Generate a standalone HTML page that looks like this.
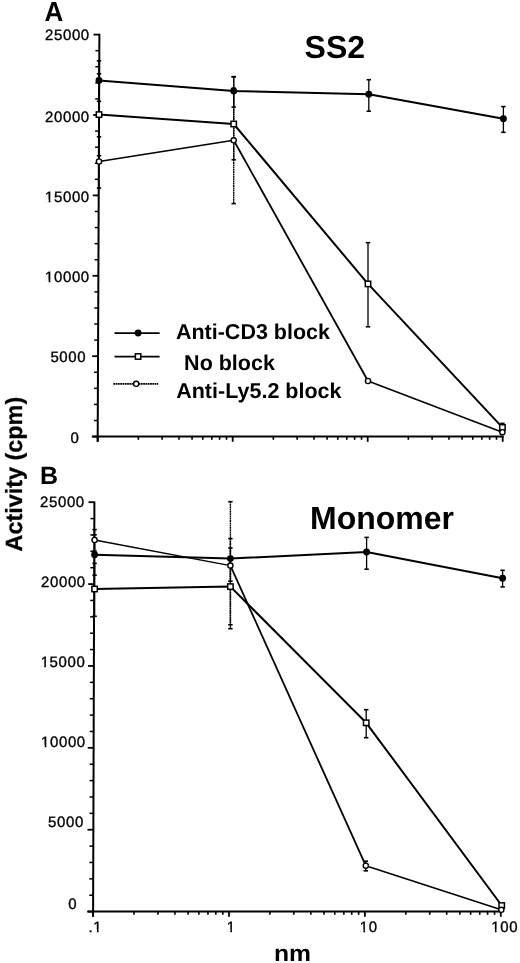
<!DOCTYPE html>
<html><head><meta charset="utf-8"><style>
html,body{margin:0;padding:0;background:#fff;}
body{width:520px;height:963px;overflow:hidden;}
svg{display:block;font-family:"Liberation Sans",sans-serif;will-change:transform;}
</style></head><body>
<svg width="520" height="963" viewBox="0 0 520 963">
<rect width="520" height="963" fill="#fff"/>
<line x1="99.39" y1="33.80" x2="97.68" y2="441.80" stroke="#000" stroke-width="2.0" stroke-linecap="butt"/>
<line x1="91.80" y1="436.60" x2="97.70" y2="436.60" stroke="#000" stroke-width="1.8" stroke-linecap="butt"/>
<line x1="93.87" y1="420.52" x2="97.77" y2="420.52" stroke="#000" stroke-width="1.5" stroke-linecap="butt"/>
<line x1="93.94" y1="404.44" x2="97.84" y2="404.44" stroke="#000" stroke-width="1.5" stroke-linecap="butt"/>
<line x1="94.00" y1="388.36" x2="97.90" y2="388.36" stroke="#000" stroke-width="1.5" stroke-linecap="butt"/>
<line x1="94.07" y1="372.28" x2="97.97" y2="372.28" stroke="#000" stroke-width="1.5" stroke-linecap="butt"/>
<line x1="92.14" y1="356.20" x2="98.04" y2="356.20" stroke="#000" stroke-width="1.8" stroke-linecap="butt"/>
<line x1="94.21" y1="340.12" x2="98.11" y2="340.12" stroke="#000" stroke-width="1.5" stroke-linecap="butt"/>
<line x1="94.27" y1="324.04" x2="98.17" y2="324.04" stroke="#000" stroke-width="1.5" stroke-linecap="butt"/>
<line x1="94.34" y1="307.96" x2="98.24" y2="307.96" stroke="#000" stroke-width="1.5" stroke-linecap="butt"/>
<line x1="94.41" y1="291.88" x2="98.31" y2="291.88" stroke="#000" stroke-width="1.5" stroke-linecap="butt"/>
<line x1="92.48" y1="275.80" x2="98.38" y2="275.80" stroke="#000" stroke-width="1.8" stroke-linecap="butt"/>
<line x1="94.54" y1="259.72" x2="98.44" y2="259.72" stroke="#000" stroke-width="1.5" stroke-linecap="butt"/>
<line x1="94.61" y1="243.64" x2="98.51" y2="243.64" stroke="#000" stroke-width="1.5" stroke-linecap="butt"/>
<line x1="94.68" y1="227.56" x2="98.58" y2="227.56" stroke="#000" stroke-width="1.5" stroke-linecap="butt"/>
<line x1="94.75" y1="211.48" x2="98.65" y2="211.48" stroke="#000" stroke-width="1.5" stroke-linecap="butt"/>
<line x1="92.81" y1="195.40" x2="98.71" y2="195.40" stroke="#000" stroke-width="1.8" stroke-linecap="butt"/>
<line x1="94.88" y1="179.32" x2="98.78" y2="179.32" stroke="#000" stroke-width="1.5" stroke-linecap="butt"/>
<line x1="94.95" y1="163.24" x2="98.85" y2="163.24" stroke="#000" stroke-width="1.5" stroke-linecap="butt"/>
<line x1="95.02" y1="147.16" x2="98.92" y2="147.16" stroke="#000" stroke-width="1.5" stroke-linecap="butt"/>
<line x1="95.08" y1="131.08" x2="98.98" y2="131.08" stroke="#000" stroke-width="1.5" stroke-linecap="butt"/>
<line x1="93.15" y1="115.00" x2="99.05" y2="115.00" stroke="#000" stroke-width="1.8" stroke-linecap="butt"/>
<line x1="95.22" y1="98.92" x2="99.12" y2="98.92" stroke="#000" stroke-width="1.5" stroke-linecap="butt"/>
<line x1="95.29" y1="82.84" x2="99.19" y2="82.84" stroke="#000" stroke-width="1.5" stroke-linecap="butt"/>
<line x1="95.35" y1="66.76" x2="99.25" y2="66.76" stroke="#000" stroke-width="1.5" stroke-linecap="butt"/>
<line x1="95.42" y1="50.68" x2="99.32" y2="50.68" stroke="#000" stroke-width="1.5" stroke-linecap="butt"/>
<line x1="93.49" y1="34.60" x2="99.39" y2="34.60" stroke="#000" stroke-width="1.8" stroke-linecap="butt"/>
<line x1="92.50" y1="436.60" x2="503.70" y2="436.60" stroke="#000" stroke-width="2.0" stroke-linecap="butt"/>
<line x1="138.34" y1="436.60" x2="138.34" y2="439.80" stroke="#000" stroke-width="1.6" stroke-linecap="butt"/>
<line x1="162.11" y1="436.60" x2="162.11" y2="439.80" stroke="#000" stroke-width="1.6" stroke-linecap="butt"/>
<line x1="178.98" y1="436.60" x2="178.98" y2="439.80" stroke="#000" stroke-width="1.6" stroke-linecap="butt"/>
<line x1="192.06" y1="436.60" x2="192.06" y2="439.80" stroke="#000" stroke-width="1.6" stroke-linecap="butt"/>
<line x1="202.75" y1="436.60" x2="202.75" y2="439.80" stroke="#000" stroke-width="1.6" stroke-linecap="butt"/>
<line x1="211.79" y1="436.60" x2="211.79" y2="439.80" stroke="#000" stroke-width="1.6" stroke-linecap="butt"/>
<line x1="219.62" y1="436.60" x2="219.62" y2="439.80" stroke="#000" stroke-width="1.6" stroke-linecap="butt"/>
<line x1="226.52" y1="436.60" x2="226.52" y2="439.80" stroke="#000" stroke-width="1.6" stroke-linecap="butt"/>
<line x1="273.34" y1="436.60" x2="273.34" y2="439.80" stroke="#000" stroke-width="1.6" stroke-linecap="butt"/>
<line x1="297.11" y1="436.60" x2="297.11" y2="439.80" stroke="#000" stroke-width="1.6" stroke-linecap="butt"/>
<line x1="313.98" y1="436.60" x2="313.98" y2="439.80" stroke="#000" stroke-width="1.6" stroke-linecap="butt"/>
<line x1="327.06" y1="436.60" x2="327.06" y2="439.80" stroke="#000" stroke-width="1.6" stroke-linecap="butt"/>
<line x1="337.75" y1="436.60" x2="337.75" y2="439.80" stroke="#000" stroke-width="1.6" stroke-linecap="butt"/>
<line x1="346.79" y1="436.60" x2="346.79" y2="439.80" stroke="#000" stroke-width="1.6" stroke-linecap="butt"/>
<line x1="354.62" y1="436.60" x2="354.62" y2="439.80" stroke="#000" stroke-width="1.6" stroke-linecap="butt"/>
<line x1="361.52" y1="436.60" x2="361.52" y2="439.80" stroke="#000" stroke-width="1.6" stroke-linecap="butt"/>
<line x1="408.34" y1="436.60" x2="408.34" y2="439.80" stroke="#000" stroke-width="1.6" stroke-linecap="butt"/>
<line x1="432.11" y1="436.60" x2="432.11" y2="439.80" stroke="#000" stroke-width="1.6" stroke-linecap="butt"/>
<line x1="448.98" y1="436.60" x2="448.98" y2="439.80" stroke="#000" stroke-width="1.6" stroke-linecap="butt"/>
<line x1="462.06" y1="436.60" x2="462.06" y2="439.80" stroke="#000" stroke-width="1.6" stroke-linecap="butt"/>
<line x1="472.75" y1="436.60" x2="472.75" y2="439.80" stroke="#000" stroke-width="1.6" stroke-linecap="butt"/>
<line x1="481.79" y1="436.60" x2="481.79" y2="439.80" stroke="#000" stroke-width="1.6" stroke-linecap="butt"/>
<line x1="489.62" y1="436.60" x2="489.62" y2="439.80" stroke="#000" stroke-width="1.6" stroke-linecap="butt"/>
<line x1="496.52" y1="436.60" x2="496.52" y2="439.80" stroke="#000" stroke-width="1.6" stroke-linecap="butt"/>
<line x1="97.70" y1="436.60" x2="97.70" y2="441.80" stroke="#000" stroke-width="1.8" stroke-linecap="butt"/>
<line x1="232.70" y1="436.60" x2="232.70" y2="441.80" stroke="#000" stroke-width="1.8" stroke-linecap="butt"/>
<line x1="367.70" y1="436.60" x2="367.70" y2="441.80" stroke="#000" stroke-width="1.8" stroke-linecap="butt"/>
<line x1="502.70" y1="436.60" x2="502.70" y2="441.80" stroke="#000" stroke-width="1.8" stroke-linecap="butt"/>
<line x1="94.41" y1="501.40" x2="93.08" y2="916.80" stroke="#000" stroke-width="2.0" stroke-linecap="butt"/>
<line x1="87.20" y1="911.60" x2="93.10" y2="911.60" stroke="#000" stroke-width="1.8" stroke-linecap="butt"/>
<line x1="89.25" y1="895.22" x2="93.15" y2="895.22" stroke="#000" stroke-width="1.5" stroke-linecap="butt"/>
<line x1="89.30" y1="878.85" x2="93.20" y2="878.85" stroke="#000" stroke-width="1.5" stroke-linecap="butt"/>
<line x1="89.36" y1="862.47" x2="93.26" y2="862.47" stroke="#000" stroke-width="1.5" stroke-linecap="butt"/>
<line x1="89.41" y1="846.10" x2="93.31" y2="846.10" stroke="#000" stroke-width="1.5" stroke-linecap="butt"/>
<line x1="87.46" y1="829.72" x2="93.36" y2="829.72" stroke="#000" stroke-width="1.8" stroke-linecap="butt"/>
<line x1="89.51" y1="813.34" x2="93.41" y2="813.34" stroke="#000" stroke-width="1.5" stroke-linecap="butt"/>
<line x1="89.57" y1="796.97" x2="93.47" y2="796.97" stroke="#000" stroke-width="1.5" stroke-linecap="butt"/>
<line x1="89.62" y1="780.59" x2="93.52" y2="780.59" stroke="#000" stroke-width="1.5" stroke-linecap="butt"/>
<line x1="89.67" y1="764.22" x2="93.57" y2="764.22" stroke="#000" stroke-width="1.5" stroke-linecap="butt"/>
<line x1="87.72" y1="747.84" x2="93.62" y2="747.84" stroke="#000" stroke-width="1.8" stroke-linecap="butt"/>
<line x1="89.78" y1="731.46" x2="93.68" y2="731.46" stroke="#000" stroke-width="1.5" stroke-linecap="butt"/>
<line x1="89.83" y1="715.09" x2="93.73" y2="715.09" stroke="#000" stroke-width="1.5" stroke-linecap="butt"/>
<line x1="89.88" y1="698.71" x2="93.78" y2="698.71" stroke="#000" stroke-width="1.5" stroke-linecap="butt"/>
<line x1="89.93" y1="682.34" x2="93.83" y2="682.34" stroke="#000" stroke-width="1.5" stroke-linecap="butt"/>
<line x1="87.99" y1="665.96" x2="93.89" y2="665.96" stroke="#000" stroke-width="1.8" stroke-linecap="butt"/>
<line x1="90.04" y1="649.58" x2="93.94" y2="649.58" stroke="#000" stroke-width="1.5" stroke-linecap="butt"/>
<line x1="90.09" y1="633.21" x2="93.99" y2="633.21" stroke="#000" stroke-width="1.5" stroke-linecap="butt"/>
<line x1="90.14" y1="616.83" x2="94.04" y2="616.83" stroke="#000" stroke-width="1.5" stroke-linecap="butt"/>
<line x1="90.20" y1="600.46" x2="94.10" y2="600.46" stroke="#000" stroke-width="1.5" stroke-linecap="butt"/>
<line x1="88.25" y1="584.08" x2="94.15" y2="584.08" stroke="#000" stroke-width="1.8" stroke-linecap="butt"/>
<line x1="90.30" y1="567.70" x2="94.20" y2="567.70" stroke="#000" stroke-width="1.5" stroke-linecap="butt"/>
<line x1="90.35" y1="551.33" x2="94.25" y2="551.33" stroke="#000" stroke-width="1.5" stroke-linecap="butt"/>
<line x1="90.41" y1="534.95" x2="94.31" y2="534.95" stroke="#000" stroke-width="1.5" stroke-linecap="butt"/>
<line x1="90.46" y1="518.58" x2="94.36" y2="518.58" stroke="#000" stroke-width="1.5" stroke-linecap="butt"/>
<line x1="88.51" y1="502.20" x2="94.41" y2="502.20" stroke="#000" stroke-width="1.8" stroke-linecap="butt"/>
<line x1="87.70" y1="911.60" x2="501.80" y2="911.60" stroke="#000" stroke-width="2.0" stroke-linecap="butt"/>
<line x1="134.01" y1="911.60" x2="134.01" y2="914.80" stroke="#000" stroke-width="1.6" stroke-linecap="butt"/>
<line x1="157.94" y1="911.60" x2="157.94" y2="914.80" stroke="#000" stroke-width="1.6" stroke-linecap="butt"/>
<line x1="174.92" y1="911.60" x2="174.92" y2="914.80" stroke="#000" stroke-width="1.6" stroke-linecap="butt"/>
<line x1="188.09" y1="911.60" x2="188.09" y2="914.80" stroke="#000" stroke-width="1.6" stroke-linecap="butt"/>
<line x1="198.85" y1="911.60" x2="198.85" y2="914.80" stroke="#000" stroke-width="1.6" stroke-linecap="butt"/>
<line x1="207.95" y1="911.60" x2="207.95" y2="914.80" stroke="#000" stroke-width="1.6" stroke-linecap="butt"/>
<line x1="215.83" y1="911.60" x2="215.83" y2="914.80" stroke="#000" stroke-width="1.6" stroke-linecap="butt"/>
<line x1="222.78" y1="911.60" x2="222.78" y2="914.80" stroke="#000" stroke-width="1.6" stroke-linecap="butt"/>
<line x1="269.91" y1="911.60" x2="269.91" y2="914.80" stroke="#000" stroke-width="1.6" stroke-linecap="butt"/>
<line x1="293.84" y1="911.60" x2="293.84" y2="914.80" stroke="#000" stroke-width="1.6" stroke-linecap="butt"/>
<line x1="310.82" y1="911.60" x2="310.82" y2="914.80" stroke="#000" stroke-width="1.6" stroke-linecap="butt"/>
<line x1="323.99" y1="911.60" x2="323.99" y2="914.80" stroke="#000" stroke-width="1.6" stroke-linecap="butt"/>
<line x1="334.75" y1="911.60" x2="334.75" y2="914.80" stroke="#000" stroke-width="1.6" stroke-linecap="butt"/>
<line x1="343.85" y1="911.60" x2="343.85" y2="914.80" stroke="#000" stroke-width="1.6" stroke-linecap="butt"/>
<line x1="351.73" y1="911.60" x2="351.73" y2="914.80" stroke="#000" stroke-width="1.6" stroke-linecap="butt"/>
<line x1="358.68" y1="911.60" x2="358.68" y2="914.80" stroke="#000" stroke-width="1.6" stroke-linecap="butt"/>
<line x1="405.81" y1="911.60" x2="405.81" y2="914.80" stroke="#000" stroke-width="1.6" stroke-linecap="butt"/>
<line x1="429.74" y1="911.60" x2="429.74" y2="914.80" stroke="#000" stroke-width="1.6" stroke-linecap="butt"/>
<line x1="446.72" y1="911.60" x2="446.72" y2="914.80" stroke="#000" stroke-width="1.6" stroke-linecap="butt"/>
<line x1="459.89" y1="911.60" x2="459.89" y2="914.80" stroke="#000" stroke-width="1.6" stroke-linecap="butt"/>
<line x1="470.65" y1="911.60" x2="470.65" y2="914.80" stroke="#000" stroke-width="1.6" stroke-linecap="butt"/>
<line x1="479.75" y1="911.60" x2="479.75" y2="914.80" stroke="#000" stroke-width="1.6" stroke-linecap="butt"/>
<line x1="487.63" y1="911.60" x2="487.63" y2="914.80" stroke="#000" stroke-width="1.6" stroke-linecap="butt"/>
<line x1="494.58" y1="911.60" x2="494.58" y2="914.80" stroke="#000" stroke-width="1.6" stroke-linecap="butt"/>
<line x1="93.10" y1="911.60" x2="93.10" y2="916.80" stroke="#000" stroke-width="1.8" stroke-linecap="butt"/>
<line x1="229.00" y1="911.60" x2="229.00" y2="916.80" stroke="#000" stroke-width="1.8" stroke-linecap="butt"/>
<line x1="364.90" y1="911.60" x2="364.90" y2="916.80" stroke="#000" stroke-width="1.8" stroke-linecap="butt"/>
<line x1="500.80" y1="911.60" x2="500.80" y2="916.80" stroke="#000" stroke-width="1.8" stroke-linecap="butt"/>
<line x1="99.00" y1="136.80" x2="99.00" y2="188.10" stroke="#000" stroke-width="1.4" stroke-linecap="butt" stroke-dasharray="1.8 0.5"/>
<line x1="96.80" y1="136.80" x2="101.20" y2="136.80" stroke="#000" stroke-width="1.6" stroke-linecap="butt"/>
<line x1="96.80" y1="188.10" x2="101.20" y2="188.10" stroke="#000" stroke-width="1.6" stroke-linecap="butt"/>
<line x1="99.00" y1="73.80" x2="99.00" y2="155.70" stroke="#000" stroke-width="1.3" stroke-linecap="butt"/>
<line x1="96.80" y1="73.80" x2="101.20" y2="73.80" stroke="#000" stroke-width="1.6" stroke-linecap="butt"/>
<line x1="96.80" y1="155.70" x2="101.20" y2="155.70" stroke="#000" stroke-width="1.6" stroke-linecap="butt"/>
<line x1="99.00" y1="60.80" x2="99.00" y2="101.30" stroke="#000" stroke-width="1.3" stroke-linecap="butt"/>
<line x1="96.80" y1="60.80" x2="101.20" y2="60.80" stroke="#000" stroke-width="1.6" stroke-linecap="butt"/>
<line x1="96.80" y1="101.30" x2="101.20" y2="101.30" stroke="#000" stroke-width="1.6" stroke-linecap="butt"/>
<line x1="233.70" y1="77.00" x2="233.70" y2="203.60" stroke="#000" stroke-width="1.4" stroke-linecap="butt" stroke-dasharray="1.8 0.5"/>
<line x1="231.50" y1="77.00" x2="235.90" y2="77.00" stroke="#000" stroke-width="1.6" stroke-linecap="butt"/>
<line x1="231.50" y1="203.60" x2="235.90" y2="203.60" stroke="#000" stroke-width="1.6" stroke-linecap="butt"/>
<line x1="233.70" y1="88.20" x2="233.70" y2="159.80" stroke="#000" stroke-width="1.4" stroke-linecap="butt" stroke-dasharray="1.8 0.5"/>
<line x1="231.50" y1="88.20" x2="235.90" y2="88.20" stroke="#000" stroke-width="1.6" stroke-linecap="butt"/>
<line x1="231.50" y1="159.80" x2="235.90" y2="159.80" stroke="#000" stroke-width="1.6" stroke-linecap="butt"/>
<line x1="233.70" y1="76.60" x2="233.70" y2="107.10" stroke="#000" stroke-width="1.3" stroke-linecap="butt"/>
<line x1="231.50" y1="76.60" x2="235.90" y2="76.60" stroke="#000" stroke-width="1.6" stroke-linecap="butt"/>
<line x1="231.50" y1="107.10" x2="235.90" y2="107.10" stroke="#000" stroke-width="1.6" stroke-linecap="butt"/>
<line x1="368.80" y1="79.70" x2="368.80" y2="111.20" stroke="#000" stroke-width="1.3" stroke-linecap="butt"/>
<line x1="366.60" y1="79.70" x2="371.00" y2="79.70" stroke="#000" stroke-width="1.6" stroke-linecap="butt"/>
<line x1="366.60" y1="111.20" x2="371.00" y2="111.20" stroke="#000" stroke-width="1.6" stroke-linecap="butt"/>
<line x1="368.00" y1="242.70" x2="368.00" y2="326.80" stroke="#000" stroke-width="1.3" stroke-linecap="butt"/>
<line x1="365.80" y1="242.70" x2="370.20" y2="242.70" stroke="#000" stroke-width="1.6" stroke-linecap="butt"/>
<line x1="365.80" y1="326.80" x2="370.20" y2="326.80" stroke="#000" stroke-width="1.6" stroke-linecap="butt"/>
<line x1="503.40" y1="106.60" x2="503.40" y2="132.30" stroke="#000" stroke-width="1.3" stroke-linecap="butt"/>
<line x1="501.20" y1="106.60" x2="505.60" y2="106.60" stroke="#000" stroke-width="1.6" stroke-linecap="butt"/>
<line x1="501.20" y1="132.30" x2="505.60" y2="132.30" stroke="#000" stroke-width="1.6" stroke-linecap="butt"/>
<line x1="502.40" y1="423.40" x2="502.40" y2="431.40" stroke="#000" stroke-width="1.3" stroke-linecap="butt"/>
<line x1="500.20" y1="423.40" x2="504.60" y2="423.40" stroke="#000" stroke-width="1.6" stroke-linecap="butt"/>
<line x1="500.20" y1="431.40" x2="504.60" y2="431.40" stroke="#000" stroke-width="1.6" stroke-linecap="butt"/>
<polyline points="99.00,161.50 233.70,140.30" fill="none" stroke="#000" stroke-width="1.4" stroke-linejoin="round"/>
<polyline points="233.70,140.30 368.00,381.00" fill="none" stroke="#000" stroke-width="1.8" stroke-linejoin="round"/>
<polyline points="368.00,381.00 502.40,432.20" fill="none" stroke="#000" stroke-width="1.5" stroke-linejoin="round"/>
<polyline points="99.00,114.60 233.70,124.00 368.00,283.90 502.40,427.40" fill="none" stroke="#000" stroke-width="2.0" stroke-linejoin="round"/>
<polyline points="99.00,80.50 233.70,91.00 368.80,94.20 503.40,118.80" fill="none" stroke="#000" stroke-width="2.0" stroke-linejoin="round"/>
<rect x="96.30" y="111.90" width="5.4" height="5.4" fill="#fff" stroke="#000" stroke-width="1.5"/>
<rect x="231.00" y="121.30" width="5.4" height="5.4" fill="#fff" stroke="#000" stroke-width="1.5"/>
<rect x="365.30" y="281.20" width="5.4" height="5.4" fill="#fff" stroke="#000" stroke-width="1.5"/>
<rect x="499.70" y="424.70" width="5.4" height="5.4" fill="#fff" stroke="#000" stroke-width="1.5"/>
<circle cx="99.00" cy="80.50" r="3.45" fill="#000"/>
<circle cx="233.70" cy="91.00" r="3.45" fill="#000"/>
<circle cx="368.80" cy="94.20" r="3.45" fill="#000"/>
<circle cx="503.40" cy="118.80" r="3.45" fill="#000"/>
<circle cx="99.00" cy="161.50" r="2.6" fill="#fff" stroke="#000" stroke-width="1.4"/>
<circle cx="233.70" cy="140.30" r="2.6" fill="#fff" stroke="#000" stroke-width="1.4"/>
<circle cx="368.00" cy="381.00" r="2.6" fill="#fff" stroke="#000" stroke-width="1.4"/>
<circle cx="502.40" cy="432.20" r="2.6" fill="#fff" stroke="#000" stroke-width="1.4"/>
<line x1="94.60" y1="529.60" x2="94.60" y2="551.00" stroke="#000" stroke-width="1.4" stroke-linecap="butt" stroke-dasharray="1.8 0.5"/>
<line x1="92.40" y1="529.60" x2="96.80" y2="529.60" stroke="#000" stroke-width="1.6" stroke-linecap="butt"/>
<line x1="92.40" y1="551.00" x2="96.80" y2="551.00" stroke="#000" stroke-width="1.6" stroke-linecap="butt"/>
<line x1="94.60" y1="534.80" x2="94.60" y2="575.20" stroke="#000" stroke-width="1.3" stroke-linecap="butt"/>
<line x1="92.40" y1="534.80" x2="96.80" y2="534.80" stroke="#000" stroke-width="1.6" stroke-linecap="butt"/>
<line x1="92.40" y1="575.20" x2="96.80" y2="575.20" stroke="#000" stroke-width="1.6" stroke-linecap="butt"/>
<line x1="94.60" y1="563.40" x2="94.60" y2="616.30" stroke="#000" stroke-width="1.3" stroke-linecap="butt"/>
<line x1="92.40" y1="563.40" x2="96.80" y2="563.40" stroke="#000" stroke-width="1.6" stroke-linecap="butt"/>
<line x1="92.40" y1="616.30" x2="96.80" y2="616.30" stroke="#000" stroke-width="1.6" stroke-linecap="butt"/>
<line x1="230.40" y1="501.70" x2="230.40" y2="628.70" stroke="#000" stroke-width="1.4" stroke-linecap="butt" stroke-dasharray="1.8 0.5"/>
<line x1="228.20" y1="501.70" x2="232.60" y2="501.70" stroke="#000" stroke-width="1.6" stroke-linecap="butt"/>
<line x1="228.20" y1="628.70" x2="232.60" y2="628.70" stroke="#000" stroke-width="1.6" stroke-linecap="butt"/>
<line x1="230.40" y1="538.60" x2="230.40" y2="581.20" stroke="#000" stroke-width="1.4" stroke-linecap="butt" stroke-dasharray="1.8 0.5"/>
<line x1="228.20" y1="538.60" x2="232.60" y2="538.60" stroke="#000" stroke-width="1.6" stroke-linecap="butt"/>
<line x1="228.20" y1="581.20" x2="232.60" y2="581.20" stroke="#000" stroke-width="1.6" stroke-linecap="butt"/>
<line x1="230.40" y1="548.00" x2="230.40" y2="624.80" stroke="#000" stroke-width="1.4" stroke-linecap="butt" stroke-dasharray="1.8 0.5"/>
<line x1="228.20" y1="548.00" x2="232.60" y2="548.00" stroke="#000" stroke-width="1.6" stroke-linecap="butt"/>
<line x1="228.20" y1="624.80" x2="232.60" y2="624.80" stroke="#000" stroke-width="1.6" stroke-linecap="butt"/>
<line x1="366.60" y1="537.40" x2="366.60" y2="569.20" stroke="#000" stroke-width="1.3" stroke-linecap="butt"/>
<line x1="364.40" y1="537.40" x2="368.80" y2="537.40" stroke="#000" stroke-width="1.6" stroke-linecap="butt"/>
<line x1="364.40" y1="569.20" x2="368.80" y2="569.20" stroke="#000" stroke-width="1.6" stroke-linecap="butt"/>
<line x1="366.20" y1="709.70" x2="366.20" y2="737.70" stroke="#000" stroke-width="1.3" stroke-linecap="butt"/>
<line x1="364.00" y1="709.70" x2="368.40" y2="709.70" stroke="#000" stroke-width="1.6" stroke-linecap="butt"/>
<line x1="364.00" y1="737.70" x2="368.40" y2="737.70" stroke="#000" stroke-width="1.6" stroke-linecap="butt"/>
<line x1="365.80" y1="861.20" x2="365.80" y2="870.80" stroke="#000" stroke-width="1.3" stroke-linecap="butt"/>
<line x1="363.60" y1="861.20" x2="368.00" y2="861.20" stroke="#000" stroke-width="1.6" stroke-linecap="butt"/>
<line x1="363.60" y1="870.80" x2="368.00" y2="870.80" stroke="#000" stroke-width="1.6" stroke-linecap="butt"/>
<line x1="502.60" y1="570.30" x2="502.60" y2="586.90" stroke="#000" stroke-width="1.3" stroke-linecap="butt"/>
<line x1="500.40" y1="570.30" x2="504.80" y2="570.30" stroke="#000" stroke-width="1.6" stroke-linecap="butt"/>
<line x1="500.40" y1="586.90" x2="504.80" y2="586.90" stroke="#000" stroke-width="1.6" stroke-linecap="butt"/>
<polyline points="94.60,540.00 230.40,565.60" fill="none" stroke="#000" stroke-width="1.4" stroke-linejoin="round"/>
<polyline points="230.40,565.60 365.80,865.70" fill="none" stroke="#000" stroke-width="1.8" stroke-linejoin="round"/>
<polyline points="365.80,865.70 501.30,909.80" fill="none" stroke="#000" stroke-width="1.5" stroke-linejoin="round"/>
<polyline points="94.60,589.00 230.40,586.60 366.20,722.80 501.70,905.50" fill="none" stroke="#000" stroke-width="2.0" stroke-linejoin="round"/>
<polyline points="94.60,554.70 230.40,558.60 366.60,552.00 502.60,578.20" fill="none" stroke="#000" stroke-width="2.0" stroke-linejoin="round"/>
<rect x="91.90" y="586.30" width="5.4" height="5.4" fill="#fff" stroke="#000" stroke-width="1.5"/>
<rect x="227.70" y="583.90" width="5.4" height="5.4" fill="#fff" stroke="#000" stroke-width="1.5"/>
<rect x="363.50" y="720.10" width="5.4" height="5.4" fill="#fff" stroke="#000" stroke-width="1.5"/>
<rect x="499.00" y="902.80" width="5.4" height="5.4" fill="#fff" stroke="#000" stroke-width="1.5"/>
<circle cx="94.60" cy="554.70" r="3.45" fill="#000"/>
<circle cx="230.40" cy="558.60" r="3.45" fill="#000"/>
<circle cx="366.60" cy="552.00" r="3.45" fill="#000"/>
<circle cx="502.60" cy="578.20" r="3.45" fill="#000"/>
<circle cx="94.60" cy="540.00" r="2.6" fill="#fff" stroke="#000" stroke-width="1.4"/>
<circle cx="230.40" cy="565.60" r="2.6" fill="#fff" stroke="#000" stroke-width="1.4"/>
<circle cx="365.80" cy="865.70" r="2.6" fill="#fff" stroke="#000" stroke-width="1.4"/>
<circle cx="501.30" cy="909.80" r="2.6" fill="#fff" stroke="#000" stroke-width="1.4"/>
<line x1="114.50" y1="333.10" x2="159.60" y2="333.10" stroke="#000" stroke-width="1.8" stroke-linecap="butt"/>
<circle cx="138.10" cy="333.00" r="3.45" fill="#000"/>
<line x1="114.50" y1="356.60" x2="159.60" y2="356.60" stroke="#000" stroke-width="1.8" stroke-linecap="butt"/>
<rect x="135.40" y="353.80" width="5.4" height="5.4" fill="#fff" stroke="#000" stroke-width="1.5"/>
<line x1="113.30" y1="383.90" x2="158.20" y2="383.90" stroke="#000" stroke-width="1.6" stroke-linecap="butt" stroke-dasharray="1.8 0.5"/>
<circle cx="136.20" cy="383.80" r="2.6" fill="#fff" stroke="#000" stroke-width="1.4"/>
<g transform="translate(175.90,339.20) scale(1.0,1.0) skewX(0.05)"><text id="t0" x="0" y="0" font-size="21.5" font-weight="bold" text-anchor=" stroke="#000" stroke-width="0.4"">Anti-CD3 block</text></g>
<g transform="translate(184.10,369.80) scale(1.0,1.0) skewX(0.05)"><text id="t1" x="0" y="0" font-size="21.5" font-weight="bold" text-anchor=" stroke="#000" stroke-width="0.4"">No block</text></g>
<g transform="translate(176.20,397.60) scale(1.0,1.0) skewX(0.05)"><text id="t2" x="0" y="0" font-size="21.5" font-weight="bold" text-anchor=" stroke="#000" stroke-width="0.4"">Anti-Ly5.2 block</text></g>
<g transform="translate(304.60,58.30) scale(1.0,1.0) skewX(0.05)"><text id="t3" x="0" y="0" font-size="32" font-weight="bold" text-anchor=" stroke="#000" stroke-width="0.3"">SS2</text></g>
<g transform="translate(310.00,529.20) scale(1.0,1.0) skewX(0.05)"><text id="t4" x="0" y="0" font-size="32" font-weight="bold" text-anchor=" stroke="#000" stroke-width="0.3"">Monomer</text></g>
<g transform="translate(44.60,20.80) scale(1.0,1.06) skewX(0.05)"><text id="t5" x="0" y="0" font-size="26" font-weight="bold" text-anchor=" stroke="#000" stroke-width="0.3"">A</text></g>
<g transform="translate(40.00,484.20) scale(1.0,1.0) skewX(0.05)"><text id="t6" x="0" y="0" font-size="25" font-weight="bold" text-anchor=" stroke="#000" stroke-width="0.3"">B</text></g>
<g transform="translate(274.00,960.70) scale(1.075,1.0) skewX(0.05)"><text id="t7" x="0" y="0" font-size="23" font-weight="bold" text-anchor=" stroke="#000" stroke-width="0.3"">nm</text></g>
<text x="0" y="0" font-size="23.4" font-weight="bold" stroke="#000" stroke-width="0.3" transform="translate(22.3,551.5) rotate(-90) skewX(0.05)">Activity (cpm)</text>
<g transform="translate(89.80,40.40) scale(1.0,1.0) skewX(0.05)"><text id="t8" x="0" y="0" font-size="15" font-weight="normal" text-anchor="end" letter-spacing="0.6" stroke="#000" stroke-width="0.35">25000</text></g>
<g transform="translate(89.80,121.60) scale(1.0,1.0) skewX(0.05)"><text id="t9" x="0" y="0" font-size="15" font-weight="normal" text-anchor="end" letter-spacing="0.6" stroke="#000" stroke-width="0.35">20000</text></g>
<g transform="translate(89.80,201.70) scale(1.0,1.0) skewX(0.05)"><text id="t10" x="0" y="0" font-size="15" font-weight="normal" text-anchor="end" letter-spacing="0.6" stroke="#000" stroke-width="0.35">15000</text><rect x="-43.99" y="-2.12" width="2.85" height="3.22" fill="#fff"/><rect x="-39.42" y="-2.12" width="2.97" height="3.22" fill="#fff"/></g>
<g transform="translate(89.80,282.30) scale(1.0,1.0) skewX(0.05)"><text id="t11" x="0" y="0" font-size="15" font-weight="normal" text-anchor="end" letter-spacing="0.6" stroke="#000" stroke-width="0.35">10000</text><rect x="-43.99" y="-2.12" width="2.85" height="3.22" fill="#fff"/><rect x="-39.42" y="-2.12" width="2.97" height="3.22" fill="#fff"/></g>
<g transform="translate(86.20,362.10) scale(1.0,1.0) skewX(0.05)"><text id="t12" x="0" y="0" font-size="15" font-weight="normal" text-anchor="end" letter-spacing="0.6" stroke="#000" stroke-width="0.35">5000</text></g>
<g transform="translate(79.40,442.50) scale(1.0,1.0) skewX(0.05)"><text id="t13" x="0" y="0" font-size="15" font-weight="normal" text-anchor="end" letter-spacing="0.6" stroke="#000" stroke-width="0.35">0</text></g>
<g transform="translate(84.80,506.60) scale(1.0,1.0) skewX(0.05)"><text id="t14" x="0" y="0" font-size="15" font-weight="normal" text-anchor="end" letter-spacing="0.6" stroke="#000" stroke-width="0.35">25000</text></g>
<g transform="translate(85.80,586.80) scale(1.0,1.0) skewX(0.05)"><text id="t15" x="0" y="0" font-size="15" font-weight="normal" text-anchor="end" letter-spacing="0.6" stroke="#000" stroke-width="0.35">20000</text></g>
<g transform="translate(85.40,667.30) scale(1.0,1.0) skewX(0.05)"><text id="t16" x="0" y="0" font-size="15" font-weight="normal" text-anchor="end" letter-spacing="0.6" stroke="#000" stroke-width="0.35">15000</text><rect x="-43.99" y="-2.12" width="2.85" height="3.22" fill="#fff"/><rect x="-39.42" y="-2.12" width="2.97" height="3.22" fill="#fff"/></g>
<g transform="translate(85.80,747.10) scale(1.0,1.0) skewX(0.05)"><text id="t17" x="0" y="0" font-size="15" font-weight="normal" text-anchor="end" letter-spacing="0.6" stroke="#000" stroke-width="0.35">10000</text><rect x="-43.99" y="-2.12" width="2.85" height="3.22" fill="#fff"/><rect x="-39.42" y="-2.12" width="2.97" height="3.22" fill="#fff"/></g>
<g transform="translate(83.90,827.30) scale(1.0,1.0) skewX(0.05)"><text id="t18" x="0" y="0" font-size="15" font-weight="normal" text-anchor="end" letter-spacing="0.6" stroke="#000" stroke-width="0.35">5000</text></g>
<g transform="translate(77.30,908.80) scale(1.0,1.0) skewX(0.05)"><text id="t19" x="0" y="0" font-size="15" font-weight="normal" text-anchor="end" letter-spacing="0.6" stroke="#000" stroke-width="0.35">0</text></g>
<g transform="translate(88.60,931.90) scale(1.0,1.0) skewX(0.05)"><text id="t20" x="0" y="0" font-size="15" font-weight="normal" text-anchor="start" letter-spacing="0.6" stroke="#000" stroke-width="0.35">.1</text><rect x="5.49" y="-2.12" width="2.85" height="3.22" fill="#fff"/><rect x="10.06" y="-2.12" width="2.97" height="3.22" fill="#fff"/></g>
<g transform="translate(226.70,931.90) scale(1.0,1.0) skewX(0.05)"><text id="t21" x="0" y="0" font-size="15" font-weight="normal" text-anchor="start" letter-spacing="0.6" stroke="#000" stroke-width="0.35">1</text><rect x="0.73" y="-2.12" width="2.85" height="3.22" fill="#fff"/><rect x="5.30" y="-2.12" width="2.97" height="3.22" fill="#fff"/></g>
<g transform="translate(359.80,931.90) scale(1.0,1.0) skewX(0.05)"><text id="t22" x="0" y="0" font-size="15" font-weight="normal" text-anchor="start" letter-spacing="0.6" stroke="#000" stroke-width="0.35">10</text><rect x="0.73" y="-2.12" width="2.85" height="3.22" fill="#fff"/><rect x="5.30" y="-2.12" width="2.97" height="3.22" fill="#fff"/></g>
<g transform="translate(491.30,931.90) scale(1.0,1.0) skewX(0.05)"><text id="t23" x="0" y="0" font-size="15" font-weight="normal" text-anchor="start" letter-spacing="0.6" stroke="#000" stroke-width="0.35">100</text><rect x="0.73" y="-2.12" width="2.85" height="3.22" fill="#fff"/><rect x="5.30" y="-2.12" width="2.97" height="3.22" fill="#fff"/></g>
</svg>
</body></html>
